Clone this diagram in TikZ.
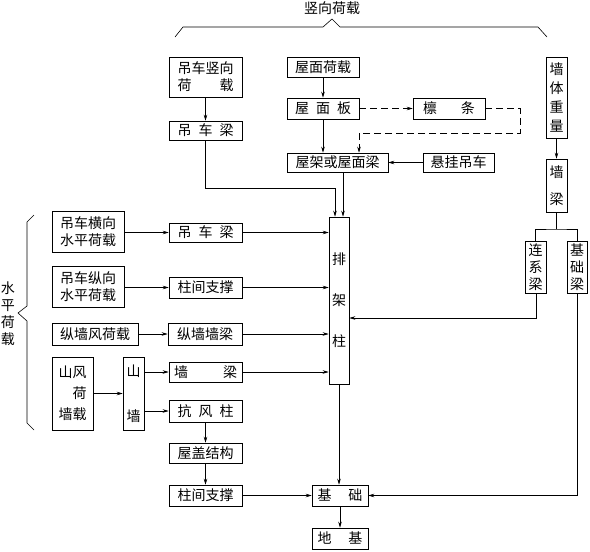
\documentclass[tikz,border=0pt]{standalone}
\usepackage{fontspec}
\newfontfamily\cjk{Noto Sans CJK SC}
\usetikzlibrary{arrows.meta}
\newcommand\spreadtxt[2]{\makebox[#1][s]{#2}}
\newcommand\hf{\hfill{}}
\begin{document}
\begin{tikzpicture}[x=1pt,y=-1pt,
 box/.style={draw, line width=0.6pt, inner sep=0pt, align=center, font=\cjk\fontsize{14}{17}\selectfont},
 lab/.style={inner sep=0pt, align=center, font=\cjk\fontsize{14}{17}\selectfont},
 ln/.style={line width=0.6pt},
 arr/.style={ln, -{Stealth[length=6pt,width=3.5pt]}},
 dsh/.style={dash pattern=on 7pt off 4pt}]
\useasboundingbox (0,0) rectangle (590,552);

% labels and braces
\node[lab] (vlab) at (332,8) {竖向荷载};
\node[lab] (hlab) at (8,314) {水\\平\\荷\\载};
\draw[ln] (175,37) -- (183,27) -- (323,27) -- (332,19) -- (340,27) -- (538,27) -- (547,37);
\draw[ln] (34,215) -- (27,222) -- (27,306) -- (18,313) -- (27,321) -- (27,423) -- (34,430);

% vertical load part
\node[box, minimum width=73pt, minimum height=40pt] (dcsx) at (205.5,77) {吊车竖向\\\spreadtxt{4em}{荷\hf 载}};
\node[box, minimum width=73pt, minimum height=19pt] (dcl1) at (205.5,130.5) {\spreadtxt{4em}{吊\hf 车\hf 梁}};
\node[box, minimum width=72pt, minimum height=20pt] (wmhz) at (323,67) {屋面荷载};
\node[box, minimum width=72pt, minimum height=21pt] (wmb) at (323,108.5) {\spreadtxt{4em}{屋\hf 面\hf 板}};
\node[box, minimum width=72pt, minimum height=21pt] (lt) at (449,108.5) {\spreadtxt{3.7em}{檩\hf 条}};
\node[box, minimum width=101pt, minimum height=19pt] (wj) at (337.5,162.5) {屋架或屋面梁};
\node[box, minimum width=71pt, minimum height=19pt] (xgdc) at (458.5,162.5) {悬挂吊车};
\node[box, minimum width=21pt, minimum height=81pt] (qtzl) at (556.5,97.5) {墙\\[1.7pt]体\\[1.7pt]重\\[1.7pt]量};
\node[box, minimum width=21pt, minimum height=53pt] (ql1) at (556.5,185.5) {墙\\[10pt]梁};
\node[box, minimum width=20pt, minimum height=167pt] (pjz) at (339,300.5) {排\\[24pt]架\\[24pt]柱};
\node[box, minimum width=21pt, minimum height=52pt] (lxl) at (535.5,267) {连\\系\\梁};
\node[box, minimum width=20pt, minimum height=52pt] (jcl) at (577,267) {基\\础\\梁};

% horizontal load part
\node[box, minimum width=72pt, minimum height=41pt] (dchx) at (88,231.5) {吊车横向\\水平荷载};
\node[box, minimum width=73pt, minimum height=19pt] (dcl2) at (205.5,232.5) {\spreadtxt{4em}{吊\hf 车\hf 梁}};
\node[box, minimum width=72pt, minimum height=41pt] (dczx) at (88,286.5) {吊车纵向\\水平荷载};
\node[box, minimum width=73pt, minimum height=21pt] (zjzc1) at (205.5,287.5) {柱间支撑};
\node[box, minimum width=86pt, minimum height=22pt] (zqfhz) at (95,334) {纵墙风荷载};
\node[box, minimum width=74pt, minimum height=22pt] (zqql) at (205,334) {纵墙墙梁};
\node[box, minimum width=41pt, minimum height=73pt] (sfhqz) at (72.5,393.5) {\makebox[2em][l]{山风}\\[4pt]\makebox[2em][r]{荷}\\[4pt]\makebox[2em][l]{墙载}};
\node[box, minimum width=21pt, minimum height=73pt] (sq) at (133.5,393.5) {山\\[28pt]墙};
\node[box, minimum width=73pt, minimum height=20pt] (ql2) at (205.5,372) {\spreadtxt{4.5em}{墙\hf 梁}};
\node[box, minimum width=73pt, minimum height=22pt] (kfz) at (205.5,411) {\spreadtxt{4em}{抗\hf 风\hf 柱}};
\node[box, minimum width=73pt, minimum height=20pt] (wgjg) at (205.5,453) {屋盖结构};
\node[box, minimum width=73pt, minimum height=21pt] (zjzc2) at (205.5,495.5) {柱间支撑};
\node[box, minimum width=56pt, minimum height=21pt] (jc) at (340,495.5) {\spreadtxt{3.2em}{基\hf 础}};
\node[box, minimum width=56pt, minimum height=21pt] (dj) at (340,538.5) {\spreadtxt{3.2em}{地\hf 基}};

% helper coordinates
\coordinate (t1) at (335,188);
\coordinate (t2) at (343,180);
\coordinate (d1) at (520,133);
\coordinate (d2) at (359,133);
\coordinate (s1) at (556.5,229);
\coordinate (r1) at (536,318);
\coordinate (y1) at (144,372);
\coordinate (y2) at (144,411);

% vertical connectors
\draw[arr] (dcsx) -- (dcl1);
\draw[arr] (dcl1.south) |- (t1) -- (t1 |- pjz.north);
\draw[arr] (wmhz) -- (wmb);
\draw[arr] (wmb.south) -- (wmb.south |- wj.north);
\draw[arr, dsh] (wmb) -- (lt);
\draw[arr, dsh] (lt.east) -| (d1) -- (d2) -- (d2 |- wj.north);
\draw[arr] (xgdc) -- (wj);
\draw[arr] (t2 |- wj.south) -- (t2 |- pjz.north);
\draw[arr] (qtzl) -- (ql1);
\draw[ln] (ql1.south) -- (s1);
\draw[ln] (lxl.north) |- (s1) -| (jcl.north);
\draw[arr] (r1 |- lxl.south) -- (r1) -- (r1 -| pjz.east);
\draw[arr] (jcl.south) |- (jc.east);

% horizontal connectors
\draw[arr] (dchx.east |- dcl2) -- (dcl2.west);
\draw[arr] (dcl2.east) -- (dcl2.east -| pjz.west);
\draw[arr] (dczx.east |- zjzc1) -- (zjzc1.west);
\draw[arr] (zjzc1.east) -- (zjzc1.east -| pjz.west);
\draw[arr] (zqfhz) -- (zqql);
\draw[arr] (zqql.east) -- (zqql.east -| pjz.west);
\draw[arr] (sfhqz) -- (sq);
\draw[arr] (y1) -- (ql2.west);
\draw[arr] (ql2.east) -- (ql2.east -| pjz.west);
\draw[arr] (y2) -- (kfz.west);
\draw[arr] (kfz) -- (wgjg);
\draw[arr] (wgjg) -- (zjzc2);
\draw[arr] (zjzc2) -- (jc);
\draw[arr] (pjz.south) -- (pjz.south |- jc.north);
\draw[arr] (jc) -- (dj);
\end{tikzpicture}
\end{document}
